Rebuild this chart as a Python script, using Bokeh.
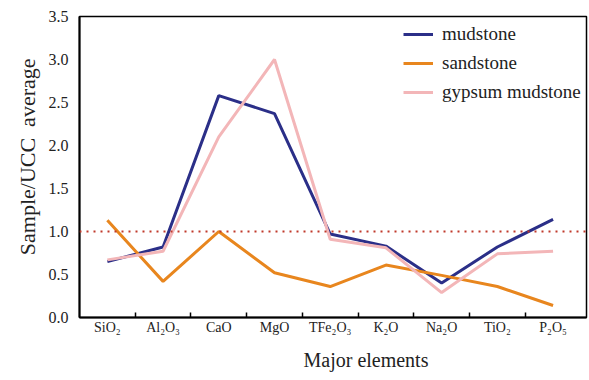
from bokeh.plotting import figure
from bokeh.models import Range1d, FixedTicker, Span, Legend, LegendItem, Title
from bokeh.embed import file_html
from bokeh.resources import INLINE

categories = ["SiO₂", "Al₂O₃", "CaO", "MgO", "TFe₂O₃", "K₂O", "Na₂O", "TiO₂", "P₂O₅"]
mudstone = [0.65, 0.82, 2.58, 2.37, 0.97, 0.83, 0.40, 0.82, 1.14]
sandstone = [1.13, 0.42, 1.00, 0.52, 0.36, 0.61, 0.49, 0.36, 0.14]
gypsum_mudstone = [0.67, 0.77, 2.10, 3.00, 0.91, 0.81, 0.29, 0.74, 0.77]
y_ticks = [0.0, 0.5, 1.0, 1.5, 2.0, 2.5, 3.0, 3.5]
reference_level = 1.0

FONT = "Liberation Serif"
TXT = "#222222"

xs = [i + 0.5 for i in range(len(categories))]

p = figure(width=589, height=380, output_backend="svg", toolbar_location=None,
           x_range=Range1d(0, len(categories) + 0.1), y_range=Range1d(0, 3.5),
           min_border_left=79, min_border_right=3, min_border_top=16, min_border_bottom=63)
p.xgrid.visible = False
p.ygrid.visible = False
p.outline_line_color = "black"
p.outline_line_width = 1.5

span = Span(location=reference_level, dimension="width", line_color="#c0392b",
            line_dash="2 5", line_width=2)
p.add_layout(span)

r1 = p.line(xs, mudstone, line_color="#2b2f88", line_width=3)
r2 = p.line(xs, sandstone, line_color="#e8861e", line_width=3)
r3 = p.line(xs, gypsum_mudstone, line_color="#f3b6b8", line_width=3)

legend = Legend(items=[LegendItem(label="mudstone", renderers=[r1]),
                       LegendItem(label="sandstone", renderers=[r2]),
                       LegendItem(label="gypsum mudstone", renderers=[r3])],
                location=(324, 214), padding=0, spacing=7,
                glyph_width=30, glyph_height=20, label_height=20, label_standoff=9,
                border_line_color=None, background_fill_alpha=0,
                label_text_font=FONT, label_text_font_size="19px", label_text_color=TXT)
p.add_layout(legend, "center")

# x axis
xa = p.xaxis[0]
xa.ticker = FixedTicker(ticks=xs, minor_ticks=list(range(1, len(categories))))
xa.major_label_overrides = {x: c for x, c in zip(xs, categories)}
xa.major_tick_in = 0
xa.major_tick_out = 0
xa.minor_tick_in = 5
xa.minor_tick_out = 0
xa.minor_tick_line_width = 1.5
xa.axis_line_width = 2
xa.major_label_text_font = FONT
xa.major_label_text_font_size = "14px"
xa.major_label_text_color = TXT
xa.major_label_standoff = 2

xtitle = Title(text="Major elements", align="left", offset=224, standoff=19,
               text_font=FONT, text_font_size="20px", text_font_style="normal",
               text_color=TXT)
p.add_layout(xtitle, "below")

# y axis
ya = p.yaxis[0]
ya.ticker = FixedTicker(ticks=y_ticks, minor_ticks=[])
ya.major_label_overrides = {t: f"{t:.1f}" for t in y_ticks}
ya.major_tick_in = 0
ya.major_tick_out = 0
ya.minor_tick_in = 0
ya.minor_tick_out = 0
ya.axis_line_width = 2
ya.major_label_text_font = FONT
ya.major_label_text_font_size = "16px"
ya.major_label_text_color = TXT
ya.major_label_standoff = 11

ytitle = Title(text="Sample/UCC\u00a0\u00a0average", align="right", offset=42, standoff=11,
               text_font=FONT, text_font_size="22px", text_font_style="normal",
               text_color=TXT)
p.add_layout(ytitle, "left")

open("out.html", "w").write(file_html(p, INLINE))
